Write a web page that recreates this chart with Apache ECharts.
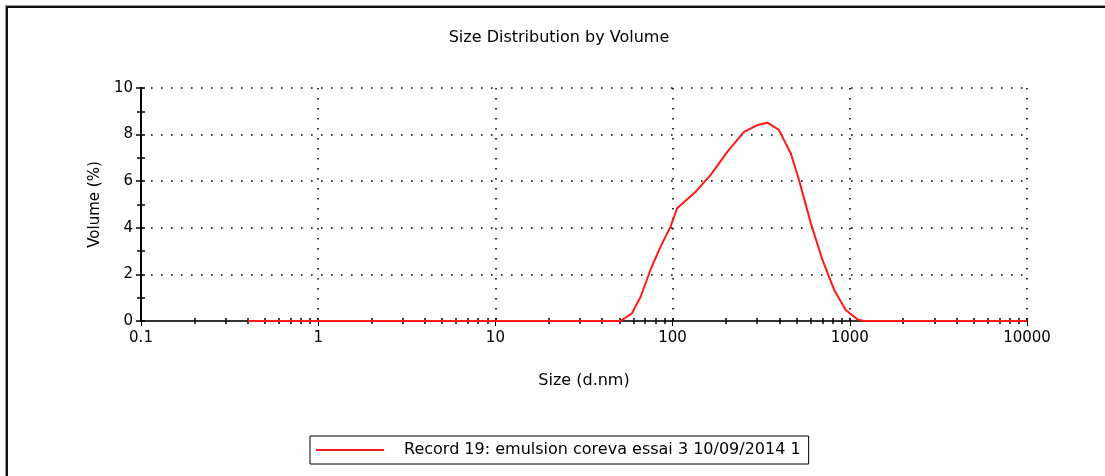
<!DOCTYPE html>
<html>
<head>
<meta charset="utf-8">
<script src="https://cdn.jsdelivr.net/npm/echarts@6/dist/echarts.min.js"></script>
<style>html,body{margin:0;padding:0;background:#fff}#c{width:1105px;height:476px}</style>
</head>
<body>
<div id="c"></div>
<script>
// ---- data ----
const sizes  = [0.4, 50.8, 59, 66, 75, 85.5, 97.4, 106, 135, 164, 204, 253, 301, 343, 398, 464, 517, 603, 701, 817, 948, 1105, 1200, 10000];
const volume = [0,   0,    0.33, 1.04, 2.19, 3.19, 4.05, 4.84, 5.55, 6.27, 7.27, 8.12, 8.41, 8.51, 8.2, 7.2, 6.05, 4.19, 2.62, 1.33, 0.47, 0.07, 0, 0];
const xMajor = [0.1, 1, 10, 100, 1000, 10000];
const xMajorLabels = ['0.1', '1', '10', '100', '1000', '10000'];
const minorMult = [2, 3, 4, 5, 6, 7, 8, 9];
const yTicksMajor = [0, 2, 4, 6, 8, 10];
const seriesName = 'Record 19: emulsion coreva essai 3 10/09/2014 1';
const titleText = 'Size Distribution by Volume';
const xName = 'Size (d.nm)';
const yName = 'Volume (%)';

const xMinor = [];
xMajor.slice(0, -1).forEach(d => minorMult.forEach(m => xMinor.push(+(d * m).toPrecision(6))));
const xAllTicks = xMajor.concat(xMinor);

const FONT = 'DejaVu Sans';
const chart = echarts.init(document.getElementById('c'), null, {renderer: 'canvas'});

const baseX = {type: 'log', logBase: 10, min: 0.1, max: 10000, gridIndex: 0, position: 'bottom'};
const baseY = {type: 'value', min: 0, max: 10, gridIndex: 0, position: 'left'};

chart.setOption({
  backgroundColor: '#fff',
  animation: false,
  title: {
    text: titleText, left: 554, top: 25, textAlign: 'center',
    textStyle: {fontFamily: FONT, fontSize: 16, fontWeight: 'normal', color: '#000'}
  },
  grid: {left: 141, right: 78, top: 88, bottom: 155, containLabel: false},
  xAxis: [
    Object.assign({}, baseX, {
      name: xName, nameLocation: 'middle', nameGap: 52,
      nameTextStyle: {fontFamily: FONT, fontSize: 16, color: '#000'},
      axisLine: {show: true, onZero: false, lineStyle: {color: '#333', width: 2}},
      axisTick: {show: true, length: 5, inside: false, customValues: xMajor, lineStyle: {color: '#000', width: 1}},
      axisLabel: {show: true, customValues: xMajor, margin: 10, fontFamily: FONT, fontSize: 15, color: '#000',
        formatter: v => { const i = xMajor.findIndex(t => Math.abs(Math.log10(t) - Math.log10(v)) < 1e-6); return i >= 0 ? xMajorLabels[i] : ''; }},
      splitLine: {show: true, lineStyle: {color: '#000', width: 1.6, type: [1.6, 8.4]}},
      minorTick: {show: false}
    }),
    Object.assign({}, baseX, {
      axisLine: {show: false, onZero: false},
      axisTick: {show: true, length: 3, inside: true, customValues: xAllTicks, lineStyle: {color: '#000', width: 1.5}},
      axisLabel: {show: false}, splitLine: {show: false}
    }),
    Object.assign({}, baseX, {
      axisLine: {show: false, onZero: false},
      axisTick: {show: true, length: 3, inside: false, customValues: xMinor, lineStyle: {color: '#000', width: 1.5}},
      axisLabel: {show: false}, splitLine: {show: false}
    })
  ],
  yAxis: [
    Object.assign({}, baseY, {
      interval: 2,
      name: yName, nameLocation: 'middle', nameGap: 38, nameRotate: 90,
      nameTextStyle: {fontFamily: FONT, fontSize: 15, color: '#000'},
      axisLine: {show: true, onZero: false, lineStyle: {color: '#000', width: 2}},
      axisTick: {show: true, length: 5, inside: false, lineStyle: {color: '#000', width: 1.5}},
      axisLabel: {show: true, margin: 8, fontFamily: FONT, fontSize: 15, color: '#000',
        formatter: v => yTicksMajor.indexOf(v) >= 0 ? String(v) : ''},
      splitLine: {show: true, lineStyle: {color: '#000', width: 1.6, type: [1.6, 8.4]}}
    }),
    Object.assign({}, baseY, {
      interval: 1,
      axisLine: {show: false, onZero: false},
      axisTick: {show: true, length: 4, inside: true, lineStyle: {color: '#000', width: 1.5}},
      axisLabel: {show: false}, splitLine: {show: false}
    }),
    Object.assign({}, baseY, {
      interval: 1,
      axisLine: {show: false, onZero: false},
      axisTick: {show: true, length: 4, inside: false, lineStyle: {color: '#000', width: 1.5}},
      axisLabel: {show: false}, splitLine: {show: false}
    })
  ],
  legend: {
    show: true, left: 310, top: 436, orient: 'horizontal',
    data: [{name: seriesName, icon: 'rect'}],
    itemWidth: 68, itemHeight: 2,
    borderColor: '#000', borderWidth: 1, borderRadius: 0,
    backgroundColor: '#fff',
    padding: [6, 8, 6, 6],
    textStyle: {fontFamily: FONT, fontSize: 16, color: '#000', padding: [0, 0, 0, 15]}
  },
  series: [{
    name: seriesName, type: 'line', xAxisIndex: 0, yAxisIndex: 0,
    data: sizes.map((s, i) => [s, volume[i]]),
    showSymbol: false, symbol: 'none', smooth: false, clip: false,
    lineStyle: {color: '#ff1a1a', width: 2}, itemStyle: {color: '#ff1a1a'}, z: 5
  }],
  graphic: [
    {type: 'line', shape: {x1: 5, y1: 5.5, x2: 1105, y2: 5.5}, style: {stroke: '#999', lineWidth: 1}, silent: true},
    {type: 'line', shape: {x1: 7, y1: 7, x2: 1105, y2: 7}, style: {stroke: '#111', lineWidth: 2}, silent: true},
    {type: 'line', shape: {x1: 5.5, y1: 5, x2: 5.5, y2: 476}, style: {stroke: '#999', lineWidth: 1}, silent: true},
    {type: 'line', shape: {x1: 7, y1: 6, x2: 7, y2: 476}, style: {stroke: '#111', lineWidth: 2}, silent: true}
  ]
});
</script>
</body>
</html>
